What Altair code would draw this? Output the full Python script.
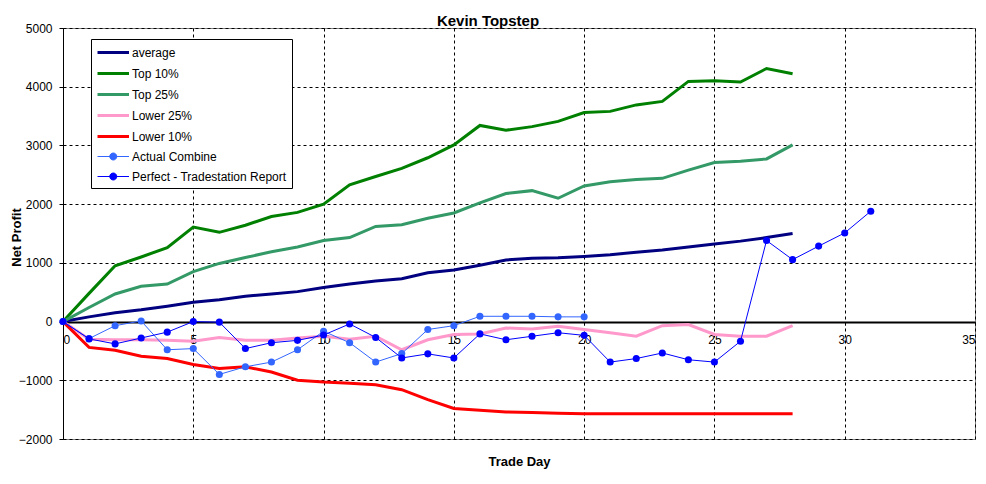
import altair as alt
import pandas as pd

series_names = ["average", "Top 10%", "Top 25%", "Lower 25%", "Lower 10%",
                "Actual Combine", "Perfect - Tradestation Report"]
series_colors = ["#000080", "#008000", "#339966", "#FF99CC", "#FF0000",
                 "#3366FF", "#0000FF"]
series_widths = [3, 3, 3, 3, 3, 1, 1]

days_stats = list(range(29))
average = [0, 80, 150, 200, 260, 330, 370, 430, 470, 510, 580, 640, 690, 730, 830,
           880, 960, 1050, 1080, 1085, 1110, 1140, 1180, 1220, 1270, 1320, 1370, 1430, 1500]
top10 = [0, 480, 950, 1100, 1260, 1610, 1520, 1640, 1790, 1860, 2000, 2330, 2470, 2610, 2790,
         3010, 3340, 3260, 3320, 3410, 3560, 3580, 3690, 3750, 4090, 4100, 4080, 4310, 4220]
top25 = [0, 240, 470, 600, 640, 850, 990, 1090, 1190, 1270, 1380, 1430, 1620, 1650, 1760,
         1850, 2020, 2180, 2230, 2100, 2310, 2380, 2420, 2440, 2580, 2710, 2730, 2770, 3010]
lower25 = [0, -300, -310, -310, -320, -335, -270, -320, -320, -280, -250, -300, -250, -480, -310,
           -220, -210, -110, -125, -80, -135, -190, -250, -70, -50, -220, -250, -250, -70]
lower10 = [0, -440, -490, -590, -630, -730, -800, -770, -860, -1000, -1030, -1050, -1075, -1160, -1330,
           -1480, -1510, -1540, -1550, -1560, -1570, -1570, -1570, -1570, -1570, -1570, -1570, -1570, -1570]
days_actual = list(range(21))
actual = [0, -290, -70, 10, -480, -460, -900, -770, -690, -480, -165, -360, -690, -545, -135,
          -70, 90, 90, 90, 80, 80]
days_perfect = list(range(32))
perfect = [0, -295, -380, -280, -180, 0, -10, -460, -360, -320, -230, -40, -270, -620, -550,
           -620, -210, -310, -250, -190, -235, -690, -630, -535, -650, -690, -335, 1380, 1055,
           1285, 1510, 1880]

x_ticks = [0, 5, 10, 15, 20, 25, 30, 35]
y_ticks = [-2000, -1000, 0, 1000, 2000, 3000, 4000, 5000]

rows = []
for name, days, vals in [
    (series_names[0], days_stats, average),
    (series_names[1], days_stats, top10),
    (series_names[2], days_stats, top25),
    (series_names[3], days_stats, lower25),
    (series_names[4], days_stats, lower10),
    (series_names[5], days_actual, actual),
    (series_names[6], days_perfect, perfect),
]:
    for d, v in zip(days, vals):
        rows.append({"series": name, "day": d, "profit": v})
df = pd.DataFrame(rows)

FONT = "Liberation Sans"
marker_names = series_names[5:]

# legend glyphs (unit coordinates, scaled by the legend symbol size)
line_path = "M-1,0H3.5"
marker_path = "M-1,0H3.5M1.75,0A0.5,0.5,0,1,1,0.75,0A0.5,0.5,0,1,1,1.75,0Z"
shape_range = [line_path] * 5 + [marker_path] * 2

leg = alt.Legend(title=None)
color = alt.Color("series:N", scale=alt.Scale(domain=series_names, range=series_colors), legend=leg)
width_enc = alt.StrokeWidth("series:N", scale=alt.Scale(type="ordinal", domain=series_names,
                                                         range=series_widths), legend=leg)
shape_enc = alt.Shape("series:N", scale=alt.Scale(domain=series_names, range=shape_range), legend=leg)

x = alt.X("day:Q", scale=alt.Scale(domain=[0, 35], nice=False),
          axis=alt.Axis(values=x_ticks, title="Trade Day", offset=-117, format="d",
                        domainColor="black", domainWidth=2, tickColor="black", tickSize=3,
                        labelPadding=9, labelFont=FONT, labelFontSize=12, labelColor="black",
                        titleFont=FONT, titleFontSize=13, titleFontWeight="bold", titleColor="black",
                        titleY=133, titleBaseline="top",
                        grid=True, gridColor="black", gridDash=[3, 3], gridWidth=1))
y = alt.Y("profit:Q", scale=alt.Scale(domain=[-2000, 5000], nice=False),
          axis=alt.Axis(values=y_ticks, title="Net Profit", format="d",
                        domainColor="black", domainWidth=1, tickColor="black", tickSize=4,
                        labelPadding=7, labelFont=FONT, labelFontSize=12, labelColor="black",
                        titleFont=FONT, titleFontSize=13, titleFontWeight="bold", titleColor="black",
                        titleX=-47, titleY=209, titleBaseline="middle", titleAngle=-90,
                        grid=True, gridColor="black", gridDash=[3, 3], gridWidth=1))

base = alt.Chart(df)
lines = base.mark_line().encode(x=x, y=y, color=color, strokeWidth=width_enc, detail="series:N")
pts = base.transform_filter(
    alt.FieldOneOfPredicate(field="series", oneOf=marker_names)
).mark_point(filled=True, size=50, opacity=1, shape="circle").encode(x=x, y=y, color=color)
legend_shapes = base.transform_filter("false").mark_point().encode(x=x, y=y, shape=shape_enc)

chart = alt.layer(lines, pts, legend_shapes).properties(
    width=912, height=411,
    title=alt.TitleParams("Kevin Topstep", font=FONT, fontSize=15, fontWeight="bold",
                          color="black", anchor="middle", dx=-31, dy=10, offset=3),
    autosize=alt.AutoSizeParams(type="none"),
    padding={"left": 55, "top": 20, "right": 3, "bottom": 37},
    background="white",
).configure_view(
    stroke="#808080", strokeWidth=1
).configure_legend(
    orient="none", legendX=28, legendY=11,
    strokeColor="black", fillColor="white", padding=5,
    labelFont=FONT, labelFontSize=12, labelColor="black", labelOffset=19,
    symbolSize=196, rowPadding=6, symbolOpacity=1,
)

chart.save("out.html", embed_options={"renderer": "svg", "actions": False})
